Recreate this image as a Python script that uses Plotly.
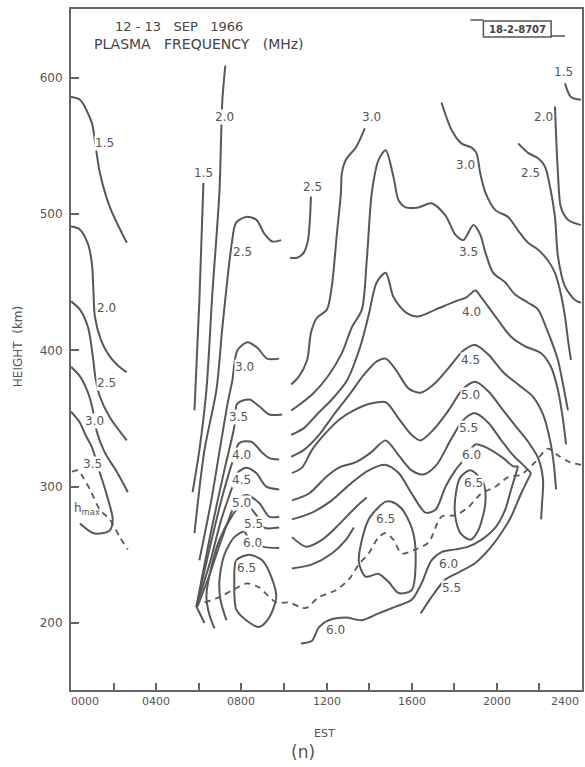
import plotly.graph_objects as go

# ---------------- data (hours EST, height km) ----------------
# left group (night 0000-0230)
L15_h = [0, 0.42, 0.98, 1.12, 1.36, 1.83, 2.62]
L15_km = [586, 584, 567, 554, 530, 505, 479]
L20_h = [0, 0.4, 0.8, 0.98, 1.05, 1.12, 1.4, 1.8, 2.2, 2.62]
L20_km = [491, 489, 478, 464, 445, 425, 408, 396, 389, 384]
L25_h = [0, 0.42, 0.8, 1.03, 1.15, 1.36, 1.82, 2.62]
L25_km = [436, 430, 417, 395, 380, 366, 351, 334]
L30_h = [0, 0.42, 0.8, 1.03, 1.22, 1.59, 2.15, 2.67]
L30_km = [388, 381, 369, 356, 340, 325, 311, 296]
L35_h = [0, 0.42, 0.65, 0.98, 1.36, 1.68, 1.96, 1.82, 1.5, 1.03, 0.42]
L35_km = [355, 347, 339, 329, 310, 294, 276, 268, 266, 266, 273]
LHM_h = [0.05, 0.33, 0.56, 0.89, 1.36, 1.82, 2.29, 2.67]
LHM_km = [311, 312, 307, 298, 283, 276, 263, 254]

# morning fan (0600-1000)
M15_h = [6.22, 6.03, 5.80]
M15_km = [523, 437, 356]
M20_h = [7.25, 7.11, 6.97, 6.64, 6.36, 6.03, 5.71]
M20_km = [609, 584, 516, 442, 371, 327, 296]
M25_h = [5.80, 6.27, 6.83, 7.11, 7.53, 7.76, 8.23, 8.70, 9.07, 9.45, 9.87]
M25_km = [266, 327, 371, 417, 476, 494, 498, 496, 486, 480, 481]
M30_h = [6.03, 6.59, 7.06, 7.39, 7.58, 7.81, 8.28, 8.75, 9.21, 9.78]
M30_km = [246, 290, 334, 364, 378, 400, 406, 402, 394, 394]
M35_h = [5.89, 6.59, 7.20, 7.67, 7.81, 8.37, 8.84, 9.31, 9.92]
M35_km = [212, 268, 312, 344, 361, 364, 359, 353, 353]
M40_h = [5.89, 6.50, 7.06, 7.58, 7.90, 8.47, 8.98, 9.31, 9.78]
M40_km = [212, 254, 290, 318, 332, 333, 325, 321, 320]
M45_h = [5.89, 6.50, 7.06, 7.58, 7.81, 8.23, 8.70, 9.17, 9.78]
M45_km = [212, 243, 276, 300, 310, 314, 310, 300, 298]
M50_h = [5.94, 6.50, 7.06, 7.58, 7.76, 8.23, 8.84, 9.31, 9.78]
M50_km = [212, 235, 261, 283, 290, 294, 288, 278, 278]
M55_h = [6.74, 6.50, 6.36, 6.59, 6.97, 7.58, 7.90, 8.37, 8.75, 9.07, 9.78]
M55_km = [196, 206, 220, 241, 261, 279, 285, 285, 278, 270, 270]
M60_h = [7.30, 7.02, 6.97, 7.20, 7.67, 8.14, 8.37, 8.98, 9.78]
M60_km = [202, 217, 231, 250, 263, 267, 261, 256, 255]
M65_h = [7.76, 8.37, 8.98, 9.45, 9.64, 9.31, 8.84, 8.23, 7.76, 7.67, 7.76]
M65_km = [246, 250, 246, 232, 219, 204, 197, 202, 210, 229, 246]
MX_h = [5.89, 6.08, 6.27]
MX_km = [212, 206, 200]

# day / evening (1030-2400)
R25A_h = [10.29, 10.62, 10.94, 11.13, 11.22, 11.27]
R25A_km = [468, 468, 472, 481, 496, 513]
R30A_h = [10.34, 10.71, 11.09, 11.27, 11.55, 12.02, 12.25, 12.49, 12.68, 12.72, 12.91, 13.38, 13.80]
R30A_km = [375, 381, 393, 413, 424, 430, 447, 486, 516, 530, 540, 549, 563]
R35_h = [10.34, 10.71, 11.41, 12.11, 12.72, 13.19, 13.66, 13.89, 14.13, 14.45, 14.78, 15.15, 15.39,
         15.72, 16.32, 16.93, 17.59, 18.05, 18.43, 18.90, 19.22, 19.46, 19.83, 20.39, 20.86, 21.47,
         21.94, 22.31, 22.54, 22.87, 23.11, 23.34]
R35_km = [356, 360, 369, 382, 398, 417, 430, 466, 516, 540, 547, 527, 510, 505, 505, 508, 499, 485,
          481, 492, 485, 472, 457, 450, 441, 435, 430, 417, 408, 393, 375, 356]
R40_h = [10.34, 10.94, 11.55, 12.25, 12.96, 13.61, 13.98, 14.36, 14.78, 15.15, 15.72, 16.32, 17.12,
         18.05, 18.57, 18.99, 19.27, 19.93, 20.67, 21.33, 22.08, 22.54, 22.87, 23.11, 23.25]
R40_km = [338, 343, 353, 364, 378, 404, 426, 450, 457, 439, 428, 425, 430, 436, 439, 444, 439, 425,
          410, 403, 398, 388, 371, 349, 331]
R45_h = [10.34, 10.94, 11.65, 12.35, 13.05, 13.75, 14.36, 14.78, 15.25, 15.86, 16.42, 17.03, 17.73,
         18.43, 18.99, 19.60, 20.30, 21.00, 21.70, 22.17, 22.50, 22.68, 22.78]
R45_km = [322, 327, 338, 353, 367, 382, 392, 394, 386, 372, 369, 375, 387, 400, 404, 397, 384, 375,
          366, 353, 334, 316, 298]
R50_h = [10.38, 10.85, 11.32, 11.88, 12.58, 13.28, 14.08, 14.78, 15.39, 16.00, 16.42, 17.03, 17.73,
         18.43, 18.99, 19.60, 20.30, 20.91, 21.47, 21.94, 22.17, 22.12, 22.08]
R50_km = [310, 314, 327, 338, 349, 356, 361, 362, 350, 338, 334, 342, 356, 372, 377, 370, 356, 344,
          333, 321, 305, 287, 276]
R55U_h = [10.38, 11.18, 11.97, 12.58, 13.38, 14.08, 14.78, 15.39, 16.00, 16.56, 17.17, 17.82, 18.43,
          18.99, 19.60, 20.21, 20.77, 21.23, 21.61]
R55U_km = [290, 295, 307, 314, 318, 325, 334, 323, 312, 309, 316, 334, 349, 354, 347, 334, 323,
           316, 310]
R60U_h = [10.38, 11.32, 12.25, 13.19, 13.98, 14.78, 15.39, 16.00, 16.65, 17.12, 17.59, 18.05, 18.52,
          18.99, 19.60, 20.30, 20.77, 21.00]
R60U_km = [276, 281, 290, 303, 312, 316, 310, 295, 281, 283, 300, 312, 321, 331, 328, 321, 315, 315]
R65C_h = [10.38, 11.04, 11.79, 12.44, 13.38, 13.89]
R65C_km = [263, 256, 261, 270, 285, 292]
R65D_h = [10.38, 11.32, 12.25, 12.91, 13.28]
R65D_km = [240, 243, 251, 261, 270]
R65A_h = [14.78, 13.98, 13.52, 13.84, 14.45, 14.92, 15.39, 16.00, 16.18, 16.00, 15.53, 15.06, 14.78]
R65A_km = [289, 276, 245, 234, 236, 230, 222, 224, 254, 270, 284, 289, 289]
R65B_h = [18.76, 19.36, 19.46, 19.13, 18.76, 18.29, 18.05, 18.05, 18.29, 18.76]
R65B_km = [312, 303, 288, 268, 261, 266, 278, 292, 307, 312]
R60L_h = [10.80, 11.32, 11.65, 12.11, 12.91, 13.66, 14.45, 15.25, 16.00, 16.46, 16.93, 17.40,
          18.05, 18.66, 19.27, 19.93, 20.39, 20.67, 21.00]
R60L_km = [185, 187, 197, 202, 204, 202, 207, 212, 217, 229, 246, 252, 254, 256, 261, 270, 283, 298, 315]
R55L_h = [16.42, 16.93, 17.59, 18.19, 18.99, 19.74, 20.21, 20.67, 21.14, 21.61]
R55L_km = [207, 219, 232, 237, 244, 256, 266, 278, 295, 310]
R15_h = [23.20, 23.48, 23.95]
R15_km = [596, 586, 584]
R20_h = [22.73, 22.87, 23.01, 23.34, 23.95]
R20_km = [579, 530, 505, 496, 492]
R25B_h = [21.00, 21.47, 21.94, 22.26, 22.50, 22.73, 22.87, 23.20, 23.67, 23.95]
R25B_km = [552, 545, 541, 535, 520, 498, 469, 447, 437, 435]
R30B_h = [17.40, 17.87, 18.33, 18.80, 19.04, 19.22, 19.46, 19.93, 20.53, 21.00, 21.47, 21.94,
          22.40, 22.73, 22.97, 23.20, 23.34, 23.48]
R30B_km = [582, 562, 552, 549, 545, 530, 516, 503, 498, 488, 479, 474, 466, 457, 444, 425, 408, 393]

# hmax (dashed)
DH_h = [6.27, 6.97, 7.58, 8.28, 8.84, 9.64, 10.24, 10.71, 11.04, 11.65, 12.44, 13.05, 13.52, 13.98,
        14.45, 14.78, 15.15, 15.53, 16.18, 16.79, 17.40, 18.05, 18.66, 19.27, 19.93, 20.53, 21.14,
        21.80, 22.40, 22.87, 23.43, 23.99]
DH_km = [215, 219, 224, 229, 226, 215, 215, 212, 211, 219, 224, 232, 243, 251, 263, 266, 261, 251,
         254, 259, 278, 279, 285, 295, 300, 307, 309, 318, 328, 323, 318, 316]

# contour labels
LAB_text = ["1.5", "2.0", "2.5", "3.0", "3.5",
            "1.5", "2.0", "2.5", "3.0", "3.5", "4.0", "4.5", "5.0", "5.5", "6.0", "6.5",
            "2.5", "3.0", "6.0", "6.5", "6.5", "5.5", "6.0",
            "3.0", "2.5", "2.0", "1.5", "3.5", "4.0", "4.5", "5.0", "5.5", "6.0"]
LAB_h = [1.59, 1.68, 1.68, 1.12, 1.03,
         6.22, 7.20, 8.05, 8.14, 7.86, 8.00, 8.00, 8.00, 8.56, 8.51, 8.23,
         11.32, 14.13, 12.44, 14.78, 18.90, 17.87, 17.73,
         18.52, 21.56, 22.17, 23.11, 18.66, 18.80, 18.76, 18.76, 18.66, 18.80]
LAB_km = [552, 431, 376, 348, 317,
          530, 571, 472, 388, 351, 323, 305, 288, 273, 259, 240,
          520, 571, 195, 276, 303, 226, 243,
          536, 530, 571, 604, 472, 428, 393, 367, 343, 323]

XTICK_vals = [2, 4, 6, 8, 10, 12, 14, 16, 18, 20, 22]
XLAB_text = ["0000", "0400", "0800", "1200", "1600", "2000", "2400"]
XLAB_h = [0.65, 4, 8, 12, 16, 20, 23.2]
YTICK_vals = [200, 300, 400, 500, 600]

# ---------------- figure ----------------
LC = "#585858"
FONT = "DejaVu Sans"
X0, X1 = 0, 24
Y0, Y1 = 150.8, 650.6
L, T, W, H = 71, 9, 513, 681


def px2x(px):
    return (px - L) / W


def py2y(py):
    return (T + H - py) / H


fig = go.Figure()

solid = [
    (L15_h, L15_km), (L20_h, L20_km), (L25_h, L25_km), (L30_h, L30_km), (L35_h, L35_km),
    (M15_h, M15_km), (M20_h, M20_km), (M25_h, M25_km), (M30_h, M30_km), (M35_h, M35_km),
    (M40_h, M40_km), (M45_h, M45_km), (M50_h, M50_km), (M55_h, M55_km), (M60_h, M60_km),
    (M65_h, M65_km), (MX_h, MX_km),
    (R25A_h, R25A_km), (R30A_h, R30A_km), (R35_h, R35_km), (R40_h, R40_km), (R45_h, R45_km),
    (R50_h, R50_km), (R55U_h, R55U_km), (R60U_h, R60U_km), (R65C_h, R65C_km), (R65D_h, R65D_km),
    (R65A_h, R65A_km), (R65B_h, R65B_km),
    (R60L_h, R60L_km), (R55L_h, R55L_km), (R15_h, R15_km), (R20_h, R20_km),
    (R25B_h, R25B_km), (R30B_h, R30B_km),
]
for xs, ys in solid:
    fig.add_trace(go.Scatter(x=xs, y=ys, mode="lines", hoverinfo="skip", showlegend=False,
                             line=dict(color=LC, width=2, shape="spline", smoothing=0.8)))

for xs, ys in [(LHM_h, LHM_km), (DH_h, DH_km)]:
    fig.add_trace(go.Scatter(x=xs, y=ys, mode="lines", hoverinfo="skip", showlegend=False,
                             line=dict(color=LC, width=1.8, dash="6px,5px", shape="spline",
                                       smoothing=0.8)))


def txt(x, y, t, size, xref="paper", yref="paper", color="#555", **kw):
    d = dict(x=x, y=y, xref=xref, yref=yref, text=t, showarrow=False, xanchor="center",
             yanchor="middle", font=dict(family=FONT, size=size, color=color))
    d.update(kw)
    return d


ann = []
for t, xh, yk in zip(LAB_text, LAB_h, LAB_km):
    ann.append(txt(xh, yk, t, 12, xref="x", yref="y", bgcolor="white", borderpad=0))

ann.append(txt(0.75, 284, "h<sub>max</sub>", 12, xref="x", yref="y"))

for t, xh in zip(XLAB_text, XLAB_h):
    ann.append(txt(xh, py2y(702), t, 11, xref="x"))

ann += [
    txt(px2x(179), py2y(27), "12 - 13   SEP   1966", 13, color="#444"),
    txt(px2x(200), py2y(44), "PLASMA   FREQUENCY   (MHz)", 14, color="#444"),
    txt(px2x(519), py2y(29), "<b>18-2-8707</b>", 10, color="#444"),
    txt(px2x(18), py2y(347), "HEIGHT  (km)", 12, textangle=-90),
    txt(px2x(325), py2y(733), "EST", 11),
    txt(px2x(304), py2y(752), "(n)", 17),
]

shapes = [
    dict(type="rect", xref="paper", yref="paper", x0=px2x(485), x1=px2x(553), y0=py2y(37),
         y1=py2y(21), line=dict(color="#555", width=1.5)),
    dict(type="line", xref="paper", yref="paper", x0=px2x(472), x1=px2x(485), y0=py2y(20),
         y1=py2y(20), line=dict(color="#555", width=1.5)),
    dict(type="line", xref="paper", yref="paper", x0=px2x(553), x1=px2x(567), y0=py2y(36),
         y1=py2y(36), line=dict(color="#555", width=1.5)),
]

fig.update_layout(
    width=585, height=767, margin=dict(l=L, r=585 - L - W, t=T, b=767 - T - H),
    plot_bgcolor="white", paper_bgcolor="white", showlegend=False,
    annotations=ann, shapes=shapes,
    xaxis=dict(range=[X0, X1], showline=True, linecolor="#666", linewidth=2, mirror=True,
               ticks="inside", tickvals=XTICK_vals, ticklen=7, tickwidth=1.5, tickcolor="#666",
               showticklabels=False, showgrid=False, zeroline=False),
    yaxis=dict(range=[Y0, Y1], showline=True, linecolor="#666", linewidth=2, mirror=True,
               ticks="inside", tickvals=YTICK_vals, ticklen=8, tickwidth=1.5, tickcolor="#666",
               tickfont=dict(family=FONT, size=12, color="#555"), showgrid=False,
               zeroline=False, ticklabelstandoff=4),
)

fig.write_html("out.html")
